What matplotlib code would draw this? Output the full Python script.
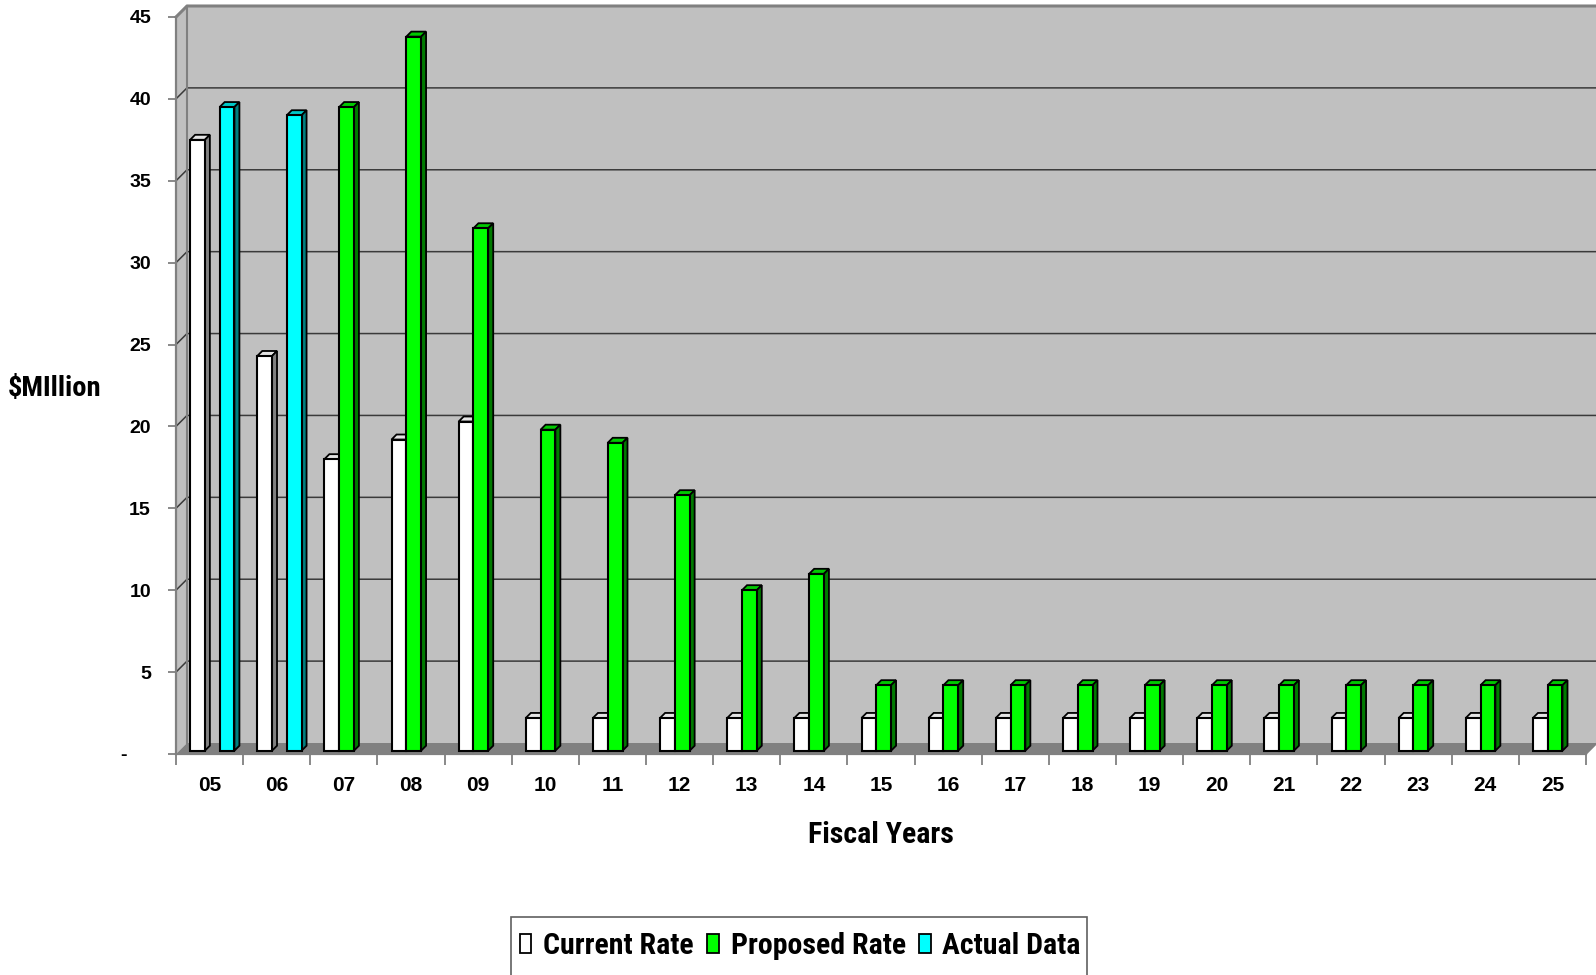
import numpy as np
import matplotlib
matplotlib.use("Agg")
import matplotlib.pyplot as plt
from matplotlib.patches import Patch, Polygon, Rectangle

# ---------------- data ----------------
years = ["05", "06", "07", "08", "09", "10", "11", "12", "13", "14", "15",
         "16", "17", "18", "19", "20", "21", "22", "23", "24", "25"]
current_rate = [37.3, 24.1, 17.8, 19.0, 20.1, 2.0, 2.0, 2.0, 2.0, 2.0, 2.0,
                2.0, 2.0, 2.0, 2.0, 2.0, 2.0, 2.0, 2.0, 2.0, 2.0]
proposed_rate = [np.nan, np.nan, 39.3, 43.6, 31.9, 19.6, 18.8, 15.6, 9.8, 10.8, 4.0,
                 4.0, 4.0, 4.0, 4.0, 4.0, 4.0, 4.0, 4.0, 4.0, 4.0]
actual_data = [39.3, 38.8] + [np.nan] * 19
y_ticks = [0, 5, 10, 15, 20, 25, 30, 35, 40, 45]
y_tick_labels = ["-", "5", "10", "15", "20", "25", "30", "35", "40", "45"]

series = [
    ("Current Rate", current_rate, "#ffffff", "#e4e4e4", "#808080"),
    ("Proposed Rate", proposed_rate, "#00ff00", "#00c800", "#007a00"),
    ("Actual Data", actual_data, "#00ffff", "#00c8c8", "#007f7f"),
]

# ---------------- figure / axes geometry ----------------
W, H, DPI = 1596, 975, 100
fig = plt.figure(figsize=(W / DPI, H / DPI), dpi=DPI)
ax_left, ax_right, ax_top, ax_bottom = 176, 1586, 17, 754
ax = fig.add_axes([ax_left / W, 1 - ax_bottom / H,
                   (ax_right - ax_left) / W, (ax_bottom - ax_top) / H])
n = len(years)
ymax = 45
ax.set_xlim(0, n)
ax.set_ylim(0, ymax)
ax.patch.set_visible(False)

pxx = (ax_right - ax_left) / n       # px per x unit
pxy = (ax_bottom - ax_top) / ymax    # px per y unit

# wall depth offsets (data units)
dxw, dyw = 11 / pxx, 11 / pxy
# bar depth offsets
ddx, ddy = 5 / pxx, 5 / pxy
bar_base = 3.3 / pxy

wall_col = "#c0c0c0"
floor_col = "#808080"
axis_col = "#808080"
grid_col = "#3a3a3a"
right_end = n + 0.3

# back wall
ax.add_patch(Polygon([(dxw, dyw), (right_end, dyw), (right_end, ymax + dyw), (dxw, ymax + dyw)],
                     closed=True, facecolor=wall_col, edgecolor="none", zorder=0, clip_on=False))
# left side wall
ax.add_patch(Polygon([(0, 0), (0, ymax), (dxw, ymax + dyw), (dxw, dyw)],
                     closed=True, facecolor=wall_col, edgecolor="none", zorder=0, clip_on=False))
# floor
ax.add_patch(Polygon([(0, 0), (n, 0), (n + dxw, dyw), (dxw, dyw)],
                     closed=True, facecolor=floor_col, edgecolor="none", zorder=0.5, clip_on=False))
ax.plot([n, n + dxw], [0, dyw], color=axis_col, lw=1.2, zorder=0.6, clip_on=False)

# gridlines on back wall + slants on side wall
for v in y_ticks[1:-1]:
    ax.plot([0, dxw, right_end], [v, v + dyw, v + dyw], color=grid_col, lw=1.1,
            zorder=0.7, clip_on=False)
# wall top edge and back corner
ax.plot([0, dxw, right_end], [ymax, ymax + dyw, ymax + dyw], color=axis_col, lw=2.2,
        zorder=0.8, clip_on=False)
ax.plot([dxw, dxw], [dyw, ymax + dyw], color=axis_col, lw=1.5, zorder=0.8, clip_on=False)

# ---------------- bars ----------------
width = 0.22
starts = [0.21, 0.43, 0.65]
x_idx = np.arange(n)
for s_i, (name, vals, fc, topc, sidec) in enumerate(series):
    z = 3 + s_i
    vals = np.asarray(vals, dtype=float)
    mask = ~np.isnan(vals)
    x0s = x_idx[mask] + starts[s_i]
    hs = vals[mask]
    ax.bar(x0s, hs, width=width, bottom=bar_base, align="edge", color=fc,
           edgecolor="black", linewidth=1.5, zorder=z + 0.1)
    for x0, h in zip(x0s, hs):
        top = bar_base + h
        ax.add_patch(Polygon([(x0, top), (x0 + width, top), (x0 + width + ddx, top + ddy),
                              (x0 + ddx, top + ddy)], closed=True, facecolor=topc,
                             edgecolor="black", linewidth=1.3, zorder=z, clip_on=False))
        ax.add_patch(Polygon([(x0 + width, bar_base), (x0 + width, top),
                              (x0 + width + ddx, top + ddy), (x0 + width + ddx, bar_base + ddy)],
                             closed=True, facecolor=sidec, edgecolor="black", linewidth=1.3,
                             zorder=z, clip_on=False))

# ---------------- axes / ticks ----------------
for side in ["top", "right"]:
    ax.spines[side].set_visible(False)
for side in ["left", "bottom"]:
    ax.spines[side].set_color(axis_col)
    ax.spines[side].set_linewidth(1.6)
    ax.spines[side].set_zorder(1)

tick_font = "Liberation Sans"
ax.set_yticks(y_ticks, y_tick_labels)
ax.tick_params(axis="y", which="major", length=6, width=1.3, color=axis_col, pad=12,
               labelsize=14)
for lab in ax.get_yticklabels():
    lab.set_fontweight("bold")
    lab.set_fontfamily(tick_font)
ax.yaxis.get_major_ticks()[0].label1.set_x(-0.017)

ax.set_xticks(np.arange(n + 1))
ax.set_xticklabels([])
ax.set_xticks(x_idx + 0.5, minor=True)
ax.set_xticklabels(years, minor=True)
ax.tick_params(axis="x", which="major", length=8, width=1.3, color=axis_col)
ax.tick_params(axis="x", which="minor", length=0, pad=16, labelsize=15)
for lab in ax.get_xticklabels(minor=True):
    lab.set_fontweight("bold")
    lab.set_fontfamily(tick_font)

narrow = ["Roboto Condensed", "DejaVu Sans"]
ax.set_xlabel("Fiscal Years", fontsize=21.5, fontweight="bold", family=narrow,
              va="baseline")
ax.xaxis.set_label_coords(0.5, (ax_bottom - 843.3) / (ax_bottom - ax_top))
ax.set_ylabel("$MIllion", fontsize=20.5, fontweight="bold", family=narrow,
              rotation=0, ha="center", va="baseline")
ax.yaxis.set_label_coords((55 - ax_left) / (ax_right - ax_left),
                          (ax_bottom - 395.7) / (ax_bottom - ax_top))

# ---------------- legend ----------------
handles = [Patch(facecolor=fc, edgecolor="black", linewidth=1.3, label=name)
           for name, _, fc, _, _ in series]
leg = fig.legend(handles=handles, loc="center left", bbox_to_anchor=(520 / W, 1 - 946 / H),
                 ncol=3, frameon=False,
                 prop={"family": narrow, "weight": "bold", "size": 21.5},
                 handlelength=0.38, handleheight=0.58, handletextpad=0.4,
                 columnspacing=0.45, borderpad=0, borderaxespad=0)
# legend frame (box runs past the bottom edge as in the reference)
fig.add_artist(Rectangle((511 / W, -0.02), (1087 - 511) / W, 0.02 + (975 - 917) / H,
                         transform=fig.transFigure, facecolor="none",
                         edgecolor="#606060", linewidth=1.2, clip_on=False))

fig.savefig("out.png", dpi=DPI)
